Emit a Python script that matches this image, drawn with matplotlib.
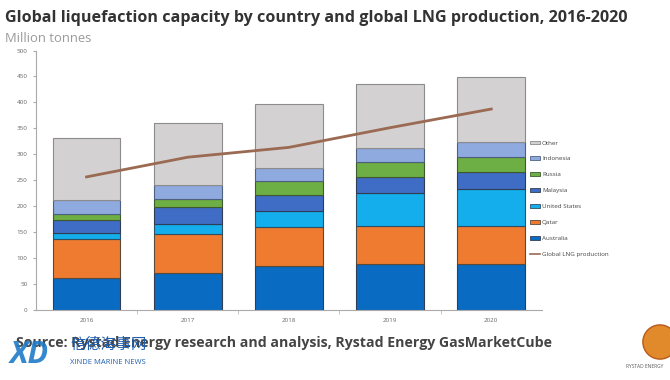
import numpy as np
import matplotlib.pyplot as plt
from matplotlib.patches import Ellipse, Patch
from matplotlib.lines import Line2D

plt.rcParams['font.family'] = ['Open Sans', 'Noto Sans CJK SC', 'DejaVu Sans']

years = ['2016', '2017', '2018', '2019', '2020']
series = ['Australia', 'Qatar', 'United States', 'Malaysia', 'Russia', 'Indonesia', 'Other']
australia = [60, 70, 84, 87, 87]
qatar = [76, 76, 76, 75, 75]
united_states = [11, 19, 30, 62, 70]
malaysia = [26, 33, 31, 32, 34]
russia = [11, 15, 27, 28, 29]
indonesia = [27, 27, 26, 27, 29]
other = [120, 121, 122, 124, 124]
lng_production = [256, 294, 313, 351, 387]

colors = ['#0A6BC2', '#EE7B30', '#13AEEB', '#3F6CC4', '#6DAE45', '#8EAADF', '#D3D1D1']
edges = ['#2F3E55', '#5A4A3A', '#2F4F66', '#2F3E55', '#3E5A2E', '#4F5F80', '#8C8C8C']
line_color = '#9B6A52'

fig = plt.figure(figsize=(6.7, 3.8), dpi=100)
ax = fig.add_axes([0.0537, 0.1855, 0.755, 0.6816])

x = np.arange(len(years))
stack = [australia, qatar, united_states, malaysia, russia, indonesia, other]
bottom = np.zeros(len(years))
for vals, c, e in zip(stack, colors, edges):
    ax.bar(x, vals, 0.67, bottom=bottom, color=c, edgecolor=e, linewidth=0.8)
    bottom += np.array(vals)

ax.plot(x, lng_production, color=line_color, linewidth=2)

ax.set_xlim(-0.5, 4.5)
ax.set_ylim(0, 500)
ax.set_yticks(range(0, 501, 50))
ax.set_xticks(x)
ax.set_xticklabels(years)
ax.set_xticks(np.arange(0.5, 4.5, 1), minor=True)
ax.tick_params(axis='x', which='major', length=0, labelsize=4.5, labelcolor='#666666', pad=6)
ax.tick_params(axis='x', which='minor', length=3, color='#BBBBBB', direction='out')
ax.tick_params(axis='y', length=2, labelsize=4.5, labelcolor='#666666', color='#AAAAAA', pad=4)
for s in ['top', 'right']:
    ax.spines[s].set_visible(False)
ax.spines['left'].set_color('#AAAAAA')
ax.spines['bottom'].set_color('#AAAAAA')

handles = [Patch(facecolor=c, edgecolor=e, linewidth=0.6) for c, e in zip(colors, edges)]
handles = handles[::-1] + [Line2D([0], [0], color=line_color, linewidth=1.2)]
labels = series[::-1] + ['Global LNG production']
fig.legend(handles, labels, loc='upper left', bbox_to_anchor=(0.783, 0.645),
           frameon=False, fontsize=4.5, labelcolor='#444444', handlelength=1.6,
           handleheight=0.5, handletextpad=0.3, labelspacing=1.75)

fig.text(0.008, 0.975, 'Global liquefaction capacity by country and global LNG production, 2016-2020',
         fontsize=11.6, fontweight='bold', color='#333333', va='top')
fig.text(0.008, 0.915, 'Million tonnes', fontsize=9.4, color='#9A9A9A', va='top')
fig.text(0.024, 0.097, 'Source: Rystad Energy research and analysis, Rystad Energy GasMarketCube',
         fontsize=10.2, fontweight='bold', color='#444444', va='center')

# watermark
fig.text(0.015, 0.065, 'XD', fontsize=22, fontweight='bold', color='#1F7BC8',
         va='center', fontstyle='italic', alpha=0.9)
fig.text(0.105, 0.095, '信德海事网', fontsize=11, color='#1F5FB0', va='center',
         family=['Noto Sans CJK SC', 'DejaVu Sans'])
fig.text(0.105, 0.045, 'XINDE MARINE NEWS', fontsize=5.5, color='#1F5FB0', va='center')
fig.patches.append(Ellipse((0.985, 0.1), 0.051, 0.09, transform=fig.transFigure,
                           facecolor='#E08A2C', edgecolor='#B85A1A', zorder=1))
fig.text(0.935, 0.035, 'RYSTAD ENERGY', fontsize=3.5, color='#555555', va='center')

fig.savefig('out.png', dpi=100)
